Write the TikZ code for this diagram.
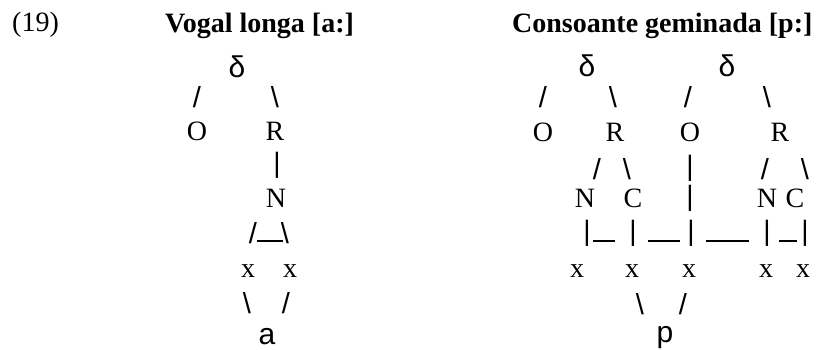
\documentclass[tikz,border=0pt]{standalone}
\usepackage{fontspec}
\setmainfont{Liberation Serif}
\newfontfamily\sansf{Liberation Sans}
\tikzset{
  lt/.style={inner sep=0pt, anchor=base, font=\fontsize{28}{30}\selectfont},
  ttl/.style={inner sep=0pt, anchor=base west, font=\bfseries\fontsize{28}{30}\selectfont},
  dl/.style={inner sep=0pt, anchor=base, font=\sansf\fontsize{30}{32}\selectfont},
  sl/.style={inner sep=0pt, anchor=center, font=\sansf\fontsize{29}{30}\selectfont},
  br/.style={inner sep=0pt, anchor=center, font=\sansf\fontsize{28}{30}\selectfont},
  us/.style={line width=1.4pt}
}
\newcommand{\bsl}{\textbackslash}
\begin{document}
\begin{tikzpicture}[x=1pt,y=-1pt]
\useasboundingbox (0,0) rectangle (817,349);
% headings
\node[lt, anchor=base west] (num) at (12,31) {(19)};
\node[ttl] (t1) at (165,32) {Vogal longa [a:]};
\node[ttl] (t2) at (512,32) {Consoante geminada [p:]};

% ---------- left tree ----------
\node[dl] (Ld) at (237,77) {δ};
\node[sl] (Ls1) at (197,97) {/};
\node[sl] (Ls2) at (275,97) {\bsl};
\node[lt] (LO) at (197,140) {O};
\node[lt] (LR) at (275,140) {R};
\node[br] (Lb1) at (277,165) {|};
\node[lt] (LN) at (276,207) {N};
\node[sl] (Ls3) at (253,233) {/};
\node[sl] (Ls4) at (285,233) {\bsl};
\coordinate (Lu1) at (257,241);
\coordinate (Lu2) at (283,241);
\draw[us] (Lu1) -- (Lu2);
\node[lt] (Lx1) at (248,277) {x};
\node[lt] (Lx2) at (290,277) {x};
\node[sl] (Ls5) at (247,303) {\bsl};
\node[sl] (Ls6) at (286,303) {/};
\node[dl] (La) at (267,344) {a};

% ---------- right tree ----------
\node[dl] (Rd1) at (587,76) {δ};
\node[dl] (Rd2) at (727,76) {δ};
\node[sl] (Rs1) at (543,97) {/};
\node[sl] (Rs2) at (613,97) {\bsl};
\node[sl] (Rs3) at (688,97) {/};
\node[sl] (Rs4) at (767,97) {\bsl};
\node[lt] (RO1) at (543,141) {O};
\node[lt] (RR1) at (615,141) {R};
\node[lt] (RO2) at (690,141) {O};
\node[lt] (RR2) at (780,141) {R};
\node[sl] (Rs5) at (597,169) {/};
\node[sl] (Rs6) at (627,169) {\bsl};
\node[br] (Rb1) at (690,168) {|};
\node[sl] (Rs7) at (765,169) {/};
\node[sl] (Rs8) at (805,169) {\bsl};
\node[lt] (RN1) at (585,207) {N};
\node[lt] (RC1) at (633,207) {C};
\node[br] (Rb2) at (690,198) {|};
\node[lt] (RN2) at (767,207) {N};
\node[lt] (RC2) at (795,207) {C};
\node[br] (Rb3) at (587,233) {|};
\node[br] (Rb4) at (633,233) {|};
\node[br] (Rb5) at (691,233) {|};
\node[br] (Rb6) at (767,233) {|};
\node[br] (Rb7) at (805,233) {|};
\coordinate (Ru1) at (593,241); \coordinate (Ru2) at (615,241);
\coordinate (Ru3) at (648,241); \coordinate (Ru4) at (680,241);
\coordinate (Ru5) at (706,241); \coordinate (Ru6) at (749,241);
\coordinate (Ru7) at (779,241); \coordinate (Ru8) at (797,241);
\draw[us] (Ru1) -- (Ru2);
\draw[us] (Ru3) -- (Ru4);
\draw[us] (Ru5) -- (Ru6);
\draw[us] (Ru7) -- (Ru8);
\node[lt] (Rx1) at (577,277) {x};
\node[lt] (Rx2) at (632,277) {x};
\node[lt] (Rx3) at (689,277) {x};
\node[lt] (Rx4) at (766,277) {x};
\node[lt] (Rx5) at (803,277) {x};
\node[sl] (Rs9) at (640,304) {\bsl};
\node[sl] (Rs10) at (683,304) {/};
\node[dl] (Rp) at (665,342) {p};
\end{tikzpicture}
\end{document}
